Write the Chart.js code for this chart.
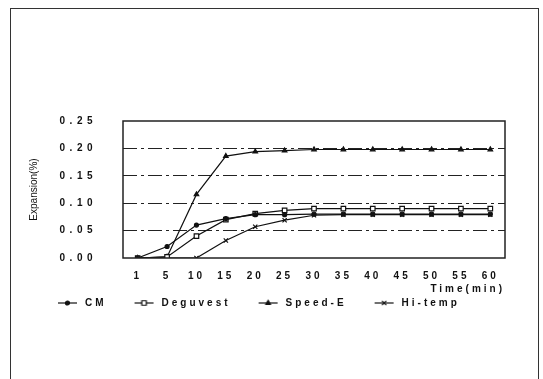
<!DOCTYPE html>
<html>
<head>
<meta charset="utf-8">
<script src="https://cdn.jsdelivr.net/npm/chart.js@4"></script>
<style>
  html, body { margin: 0; padding: 0; background: #fff; }
  #wrap { position: relative; width: 543px; height: 379px; overflow: hidden; }
  #frame { position: absolute; left: 10px; top: 8px; width: 527px; height: 400px; border: 1.5px solid #333; }
  canvas { position: absolute; left: 0; top: 0; }
</style>
</head>
<body>
<div id="wrap">
  <div id="frame"></div>
  <canvas id="chart" width="543" height="379"></canvas>
</div>
<script>
// --- data ---
const timeLabels = ["1", "5", "10", "15", "20", "25", "30", "35", "40", "45", "50", "55", "60"];
const cmValues = [0, 0.021, 0.060, 0.072, 0.079, 0.079, 0.080, 0.080, 0.080, 0.080, 0.080, 0.080, 0.080];
const deguvestValues = [0, 0.002, 0.040, 0.070, 0.081, 0.087, 0.090, 0.090, 0.090, 0.090, 0.090, 0.090, 0.090];
const speedEValues = [0, 0.002, 0.116, 0.186, 0.194, 0.196, 0.198, 0.198, 0.198, 0.198, 0.198, 0.198, 0.198];
const hiTempValues = [0, 0, 0, 0.032, 0.057, 0.069, 0.078, 0.079, 0.079, 0.079, 0.079, 0.079, 0.079];
const yTicks = [0, 0.05, 0.10, 0.15, 0.20, 0.25];

const ink = "#111";
const tickFont = { family: "'Liberation Sans', Arial, sans-serif", size: 10, weight: "bold" };

// legend swatch: short line with the series marker in the middle
function legendSwatch(style, radius, fill) {
  const c = document.createElement("canvas");
  c.width = 40; c.height = 10;
  const g = c.getContext("2d");
  g.strokeStyle = ink; g.fillStyle = fill; g.lineWidth = 1.2;
  g.beginPath(); g.moveTo(18, 5); g.lineTo(37, 5); g.stroke();
  Chart.helpers.drawPoint(g, { pointStyle: style, radius: radius, borderWidth: 1.2 }, 27.5, 5);
  return c;
}

function series(label, data, style, radius, fill) {
  return {
    label: label,
    data: data,
    borderColor: ink,
    borderWidth: 1.2,
    pointStyle: style,
    pointRadius: radius,
    pointBorderColor: ink,
    pointBackgroundColor: fill,
    pointBorderWidth: 1.2,
    tension: 0
  };
}

const datasets = [
  series("CM", cmValues, "circle", 2, ink),
  series("Deguvest", deguvestValues, "rect", 3.2, "#fff"),
  series("Speed-E", speedEValues, "triangle", 2.6, ink),
  series("Hi-temp", hiTempValues, "crossRot", 3, ink)
];

// letter spacing per part of the drawing (the scan has wide tracking)
const spacingPlugin = {
  id: "spacing",
  beforeUpdate(chart) { chart.ctx.letterSpacing = "3px"; },
  beforeDraw(chart) {
    const ctx = chart.ctx;
    ctx.letterSpacing = "3px";
    const y = chart.scales.y;
    if (y && !y._wrapped) {
      const title = y.drawTitle, labels = y.drawLabels;
      y.drawTitle = function () { ctx.letterSpacing = "0px"; title.apply(this, arguments); ctx.letterSpacing = "3px"; };
      y.drawLabels = function () { ctx.letterSpacing = "4.5px"; labels.apply(this, arguments); ctx.letterSpacing = "3px"; };
      y._wrapped = true;
    }
  },
  // plot frame
  afterDatasetsDraw(chart) {
    const { ctx, chartArea: a } = chart;
    ctx.save();
    ctx.strokeStyle = "#222";
    ctx.lineWidth = 1.5;
    ctx.strokeRect(a.left, a.top, a.right - a.left, a.bottom - a.top);
    ctx.restore();
  }
};

new Chart(document.getElementById("chart"), {
  type: "line",
  data: { labels: timeLabels, datasets: datasets },
  plugins: [spacingPlugin],
  options: {
    responsive: false,
    animation: false,
    events: [],
    layout: { padding: { top: 121, right: 38, left: 30, bottom: 61 } },
    plugins: {
      tooltip: { enabled: false },
      legend: {
        position: "bottom",
        align: "start",
        labels: {
          color: ink,
          font: tickFont,
          padding: 10,
          usePointStyle: true,
          pointStyleWidth: 40,
          generateLabels(chart) {
            return chart.data.datasets.map((ds, i) => ({
              text: ds.label,
              datasetIndex: i,
              fontColor: ink,
              lineWidth: 0,
              strokeStyle: ink,
              fillStyle: ink,
              pointStyle: legendSwatch(ds.pointStyle, ds.pointRadius, ds.pointBackgroundColor)
            }));
          }
        }
      }
    },
    scales: {
      x: {
        offset: true,
        grid: { display: false, drawTicks: false },
        border: { display: false },
        ticks: { color: ink, font: tickFont, padding: 12, maxRotation: 0, autoSkip: false },
        title: {
          display: true, text: "Time(min)", align: "end", color: ink, font: tickFont,
          padding: { top: 0, bottom: -7 }
        },
        afterFit(scale) { scale.height = 30; }
      },
      y: {
        min: 0, max: 0.25,
        afterBuildTicks(scale) { scale.ticks = yTicks.map(v => ({ value: v })); },
        grid: {
          drawTicks: false,
          lineWidth: 1,
          color: ctx => (ctx.tick && ctx.tick.value > 0 && ctx.tick.value < 0.25) ? "#222" : "rgba(0,0,0,0)"
        },
        border: { display: false, dash: [14, 4, 3, 4] },
        ticks: { color: ink, font: tickFont, padding: 26, callback: v => v.toFixed(2) },
        title: {
          display: true, text: "Expansion(%)", color: ink,
          font: { family: "'Liberation Sans Narrow', 'Liberation Sans', Arial, sans-serif", size: 10 },
          padding: { top: -2, bottom: 0 }
        },
        afterFit(scale) { scale.width = 93; }
      }
    }
  }
});
</script>
</body>
</html>
